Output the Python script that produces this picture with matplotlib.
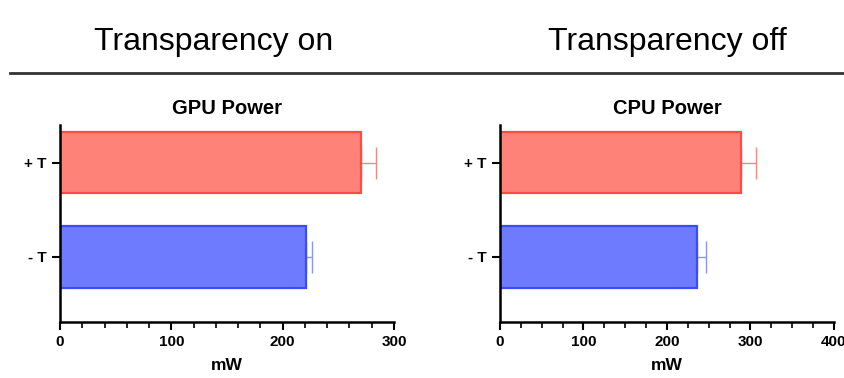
import matplotlib.pyplot as plt
from matplotlib.ticker import MultipleLocator

# Data
categories = ["- T", "+ T"]
gpu_power = [221, 270]
gpu_err = [5, 14]
cpu_power = [236, 289]
cpu_err = [11, 18]

fill_colors = ["#6E7BFF", "#FF8279"]
edge_colors = ["#3A4CFF", "#FF4B45"]
err_colors = ["#8C96F0", "#F08A84"]

plt.rcParams['font.family'] = ['Liberation Sans', 'DejaVu Sans']

fig = plt.figure(figsize=(8.45, 3.78), dpi=100)

# header band
fig.text(214 / 845, 1 - 42 / 378, "Transparency on", ha='center', va='center', fontsize=23)
fig.text(667 / 845, 1 - 42 / 378, "Transparency off", ha='center', va='center', fontsize=23)
fig.add_artist(plt.Line2D([10 / 845, 1], [1 - 73 / 378] * 2, color='#333333', lw=2))


def draw_panel(ax, values, errs, title, xmax, major, minor):
    ypos = list(range(len(categories)))
    ax.barh(ypos, values, height=0.65, color=fill_colors, edgecolor=edge_colors, linewidth=1.6, zorder=2)
    for y, v, e, c in zip(ypos, values, errs, err_colors):
        ax.errorbar(v, y, xerr=[[0], [e]], fmt='none', ecolor=c, elinewidth=1, capsize=11.5, capthick=1, zorder=1)
    ax.set_xlim(0, xmax)
    ax.set_ylim(-0.69, 1.40)
    ax.set_yticks(ypos)
    ax.set_yticklabels(categories, fontweight='bold', fontsize=11)
    ax.xaxis.set_major_locator(MultipleLocator(major))
    ax.xaxis.set_minor_locator(MultipleLocator(minor))
    for lab in ax.get_xticklabels():
        lab.set_fontweight('bold')
        lab.set_fontsize(11)
    ax.tick_params(axis='both', which='major', length=6, width=1.5, direction='out')
    ax.tick_params(axis='x', which='minor', length=4, width=1.2, direction='out')
    ax.spines['top'].set_visible(False)
    ax.spines['right'].set_visible(False)
    ax.spines['left'].set_linewidth(1.8)
    ax.spines['bottom'].set_linewidth(1.8)
    ax.set_title(title, fontweight='bold', fontsize=14.5, pad=8)
    ax.set_xlabel("mW", fontweight='bold', fontsize=12.5, labelpad=6)


ax1 = fig.add_axes([60 / 845, 1 - 322 / 378, 334 / 845, 197 / 378])
draw_panel(ax1, gpu_power, gpu_err, "GPU Power", 300, 100, 20)

ax2 = fig.add_axes([500 / 845, 1 - 322 / 378, 334 / 845, 197 / 378])
draw_panel(ax2, cpu_power, cpu_err, "CPU Power", 400, 100, 25)

fig.savefig("out.png", dpi=100)
